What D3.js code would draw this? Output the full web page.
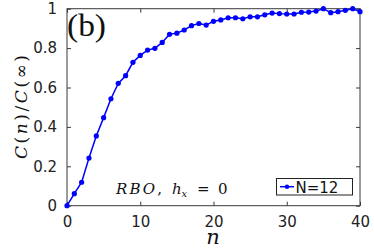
<!DOCTYPE html>
<html><head><meta charset="utf-8">
<script src="https://cdn.jsdelivr.net/npm/d3@7"></script>
<style>
html,body{margin:0;padding:0;background:#fff;}
svg{display:block;}
</style></head>
<body>
<svg id="chart" width="374" height="249"></svg>
<script>
const nValues = d3.range(0, 41);
const cRatio = [0, 0.061, 0.119, 0.242, 0.354, 0.447, 0.543, 0.621, 0.660, 0.728,
  0.763, 0.790, 0.799, 0.829, 0.870, 0.876, 0.892, 0.914, 0.925, 0.917,
  0.936, 0.943, 0.954, 0.954, 0.949, 0.959, 0.959, 0.969, 0.978, 0.975,
  0.973, 0.973, 0.982, 0.983, 0.988, 1.0, 0.980, 0.985, 0.992, 1.0, 0.985];
const xTicks = [0, 10, 20, 30, 40];
const yTicks = [0, 0.2, 0.4, 0.6, 0.8, 1];
const seriesName = "N=12";

const svg = d3.select("#chart");
const L = 67, R = 360, T = 8.7, B = 205.7;
const x = d3.scaleLinear().domain([0, 40]).range([L, R]);
const y = d3.scaleLinear().domain([0, 1]).range([B, T]);
const axisColor = "#3a3a3a";
const tickFont = "'DejaVu Sans', Verdana, sans-serif";
const serif = "'DejaVu Serif', 'Liberation Serif', serif";

// box
svg.append("rect").attr("x", L).attr("y", T).attr("width", R - L).attr("height", B - T)
  .attr("fill", "none").attr("stroke", axisColor).attr("stroke-width", 1);

// axes
const gx = svg.append("g").attr("transform", `translate(0,${B})`)
  .call(d3.axisBottom(x).tickValues(xTicks).tickSizeInner(-4).tickSizeOuter(0).tickPadding(11).tickFormat(d3.format("d")));
const gxTop = svg.append("g").attr("transform", `translate(0,${T})`)
  .call(d3.axisTop(x).tickValues(xTicks).tickSizeInner(-4).tickSizeOuter(0).tickFormat(""));
const gy = svg.append("g").attr("transform", `translate(${L},0)`)
  .call(d3.axisLeft(y).tickValues(yTicks).tickSizeInner(-4).tickSizeOuter(0).tickPadding(10).tickFormat(d => d === 0 ? "0" : d === 1 ? "1" : d3.format(".1f")(d)));
const gyR = svg.append("g").attr("transform", `translate(${R},0)`)
  .call(d3.axisRight(y).tickValues(yTicks).tickSizeInner(-4).tickSizeOuter(0).tickFormat(""));
[gx, gxTop, gy, gyR].forEach(g => {
  g.select(".domain").remove();
  g.selectAll(".tick line").attr("stroke", axisColor);
  g.selectAll("text").attr("fill", "#222").style("font-family", tickFont).style("font-size", "15px");
});

// line + markers
const line = d3.line().x((d, i) => x(nValues[i])).y(d => y(d));
svg.append("path").datum(cRatio).attr("d", line)
  .attr("fill", "none").attr("stroke", "#0000ff").attr("stroke-width", 1.5);
svg.append("g").selectAll("circle").data(cRatio).join("circle")
  .attr("cx", (d, i) => x(nValues[i])).attr("cy", d => y(d)).attr("r", 2.6).attr("fill", "#0000ff");

// panel label
svg.append("text").attr("x", 67).attr("y", 36).text("(b)")
  .attr("textLength", 39).attr("lengthAdjust", "spacingAndGlyphs")
  .style("font-family", "'Liberation Serif', 'Times New Roman', serif").style("font-size", "31px").attr("fill", "#111");

// annotation
const annStyle = s => s.style("font-family", serif).style("font-size", "15px").attr("fill", "#111");
const rbo = annStyle(svg.append("text").attr("x", 116).attr("y", 194)
  .attr("textLength", 46).attr("lengthAdjust", "spacing"));
rbo.append("tspan").style("font-style", "italic").text("RBO");
rbo.append("tspan").text(",");
annStyle(svg.append("text").attr("x", 172).attr("y", 194).style("font-style", "italic").text("h"));
svg.append("text").attr("x", 181.5).attr("y", 197).style("font-style", "italic")
  .style("font-family", serif).style("font-size", "10px").attr("fill", "#111").text("x");
annStyle(svg.append("text").attr("x", 197).attr("y", 194).text("="));
annStyle(svg.append("text").attr("x", 218).attr("y", 194).text("0"));

// axis labels
svg.append("text").attr("x", 213).attr("y", 243.5).attr("text-anchor", "middle")
  .style("font-family", serif).style("font-style", "italic").style("font-size", "21px").attr("fill", "#111").text("n");
const yl = svg.append("text").attr("transform", "translate(27,107) rotate(-90)").attr("text-anchor", "middle")
  .attr("textLength", 104).attr("lengthAdjust", "spacing")
  .style("font-family", serif).style("font-size", "17px").attr("fill", "#111");
yl.append("tspan").style("font-style", "italic").text("C");
yl.append("tspan").text("(");
yl.append("tspan").style("font-style", "italic").text("n");
yl.append("tspan").text(")/");
yl.append("tspan").style("font-style", "italic").text("C");
yl.append("tspan").text("(∞)");

// legend
const lg = svg.append("g");
lg.append("rect").attr("x", 276.5).attr("y", 178.5).attr("width", 76).attr("height", 16.5)
  .attr("fill", "#fff").attr("stroke", "#222").attr("stroke-width", 1);
lg.append("line").attr("x1", 280).attr("x2", 294).attr("y1", 186.7).attr("y2", 186.7)
  .attr("stroke", "#0000ff").attr("stroke-width", 1.5);
lg.append("circle").attr("cx", 287).attr("cy", 186.7).attr("r", 2.2).attr("fill", "#0000ff");
lg.append("text").attr("x", 295.5).attr("y", 192.5).text(seriesName)
  .style("font-family", tickFont).style("font-size", "15px").attr("fill", "#111");
</script>
</body></html>
